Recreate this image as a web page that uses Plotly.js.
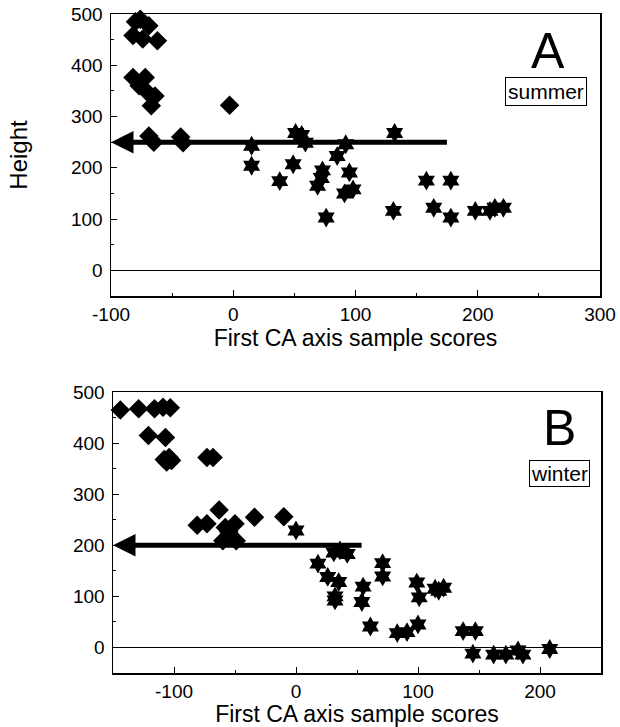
<!DOCTYPE html>
<html>
<head>
<meta charset="utf-8">
<script src="https://cdn.plot.ly/plotly-3.0.1.min.js"></script>
<style>html,body{margin:0;padding:0;background:#fff;}#chart{width:620px;height:727px;}</style>
</head>
<body>
<div id="chart"></div>
<script>
// ---- Panel A (summer) ----
const summerDiamondX = [-80, -76, -69, -82, -74, -62, -82, -72, -77, -70, -64, -67, -3, -69, -65, -43, -41];
const summerDiamondY = [485, 490, 477, 458, 451, 448, 376, 376, 360, 347, 340, 321, 322, 262, 250, 260, 249];
const summerStarX = [15, 15, 38, 49, 51, 56, 59, 69, 72, 73, 76, 85, 92, 91, 95, 98, 132, 131, 158, 164, 178, 178, 198, 210, 214, 221];
const summerStarY = [243, 204, 174, 207, 268, 264, 249, 165, 180, 195, 103, 223, 246, 150, 191, 158, 268, 116, 175, 122, 175, 103, 116, 116, 122, 122];
const summerArrow = {from: 176, to: -100, height: 250};
const summerXTicks = [-100, 0, 100, 200, 300];
const summerXTickText = ['-100', '0', '100', '200', '300'];

// ---- Panel B (winter) ----
const winterDiamondX = [-144, -129, -116, -109, -103, -121, -107, -108, -104, -102, -106, -73, -68, -81, -73, -63, -58, -50, -55, -60, -49, -34, -10];
const winterDiamondY = [465, 467, 467, 470, 469, 415, 411, 368, 372, 366, 363, 372, 372, 239, 242, 269, 235, 242, 226, 209, 209, 255, 256];
const winterStarX = [0, 18, 26, 31, 36, 42, 35, 32, 32, 55, 54, 61, 71, 71, 83, 91, 100, 99, 101, 114, 117, 121, 137, 147, 145, 162, 172, 182, 186, 208];
const winterStarY = [229, 164, 138, 186, 190, 183, 128, 100, 92, 119, 89, 41, 165, 139, 28, 30, 45, 127, 98, 115, 111, 117, 32, 32, -12, -14, -14, -6, -14, -3];
const winterArrow = {from: 55, to: -150, height: 200};
const winterXTicks = [-100, 0, 100, 200];
const winterXTickText = ['-100', '0', '100', '200'];

const yTicks = [0, 100, 200, 300, 400, 500];
const yTickText = ['0', '100', '200', '300', '400', '500'];

const xTitle = 'First CA axis sample scores';
const yTitle = 'Height';

const FONT = 'Liberation Sans, Arial, sans-serif';
const black = '#000';

function mk(x, y, sym, xa, ya) {
  return {x: x, y: y, type: 'scatter', mode: 'markers', xaxis: xa, yaxis: ya,
    marker: {symbol: sym, size: 15, color: black, line: {width: 0}}, cliponaxis: false, hoverinfo: 'skip'};
}

const data = [
  mk(summerDiamondX, summerDiamondY, 'diamond', 'x', 'y'),
  mk(summerStarX, summerStarY, 'hexagram', 'x', 'y'),
  mk(winterDiamondX, winterDiamondY, 'diamond', 'x2', 'y2'),
  mk(winterStarX, winterStarY, 'hexagram', 'x2', 'y2')
];

function xax(range, domain, anchor, tv, tt) {
  return {domain: domain, range: range, anchor: anchor, tickmode: 'array', tickvals: tv, ticktext: tt,
    ticks: 'inside', ticklen: 6, tickwidth: 1, tickcolor: black,
    minor: {ticks: 'inside', ticklen: 3, dtick: 50, tick0: 0, tickcolor: black},
    showline: true, linecolor: black, linewidth: 1.5, mirror: true,
    showgrid: false, zeroline: false, ticklabelstandoff: 1,
    tickfont: {family: FONT, size: 19, color: black},
    title: {text: xTitle, font: {family: FONT, size: 23, color: black}, standoff: 0}};
}
function yax(domain, anchor, withTitle) {
  const a = {domain: domain, range: [-50, 500], anchor: anchor, tickmode: 'array', tickvals: yTicks, ticktext: yTickText,
    ticks: 'inside', ticklen: 6, tickwidth: 1, tickcolor: black,
    minor: {ticks: 'inside', ticklen: 3, dtick: 50, tick0: 0, tickcolor: black},
    showline: true, linecolor: black, linewidth: 1.5, mirror: true,
    showgrid: false, zeroline: true, zerolinecolor: black, zerolinewidth: 1,
    ticklabelstandoff: 3,
    tickfont: {family: FONT, size: 19, color: black}};
  if (withTitle) a.title = {text: yTitle, font: {family: FONT, size: 24, color: black}, standoff: 36};
  return a;
}

function arrow(a, xr, yr) {
  return {x: a.to, y: a.height, ax: a.from, ay: a.height, xref: xr, yref: yr, axref: xr, ayref: yr,
    text: '', showarrow: true, arrowhead: 2, arrowsize: 0.9, arrowwidth: 5, arrowcolor: black, standoff: 0};
}

const layout = {
  width: 620, height: 727,
  margin: {l: 0, r: 0, t: 0, b: 0},
  paper_bgcolor: '#fff', plot_bgcolor: '#fff',
  showlegend: false,
  font: {family: FONT, color: black},
  xaxis: xax([-100, 300], [111/620, 600/620], 'y', summerXTicks, summerXTickText),
  yaxis: yax([1 - 296/727, 1 - 14/727], 'x', true),
  xaxis2: xax([-150, 250], [113/620, 601/620], 'y2', winterXTicks, winterXTickText),
  yaxis2: yax([1 - 673/727, 1 - 392/727], 'x2', false),
  annotations: [
    arrow(summerArrow, 'x', 'y'),
    arrow(winterArrow, 'x2', 'y2'),
    {text: 'A', xref: 'paper', yref: 'paper', x: 548/620, y: 1 - 51/727, xanchor: 'center', yanchor: 'middle',
      showarrow: false, font: {family: FONT, size: 50, color: black}},
    {text: 'summer', xref: 'paper', yref: 'paper', x: 546/620, y: 1 - 91/727, xanchor: 'center', yanchor: 'middle',
      showarrow: false, font: {family: FONT, size: 21, color: black}, bordercolor: black, borderwidth: 1, borderpad: 2, bgcolor: '#fff'},
    {text: 'B', xref: 'paper', yref: 'paper', x: 559/620, y: 1 - 428/727, xanchor: 'center', yanchor: 'middle',
      showarrow: false, font: {family: FONT, size: 50, color: black}},
    {text: 'winter', xref: 'paper', yref: 'paper', x: 559/620, y: 1 - 473/727, xanchor: 'center', yanchor: 'middle',
      showarrow: false, font: {family: FONT, size: 21, color: black}, bordercolor: black, borderwidth: 1, borderpad: 1, bgcolor: '#fff'}
  ]
};

Plotly.newPlot('chart', data, layout, {displayModeBar: false, staticPlot: true});
</script>
</body>
</html>
